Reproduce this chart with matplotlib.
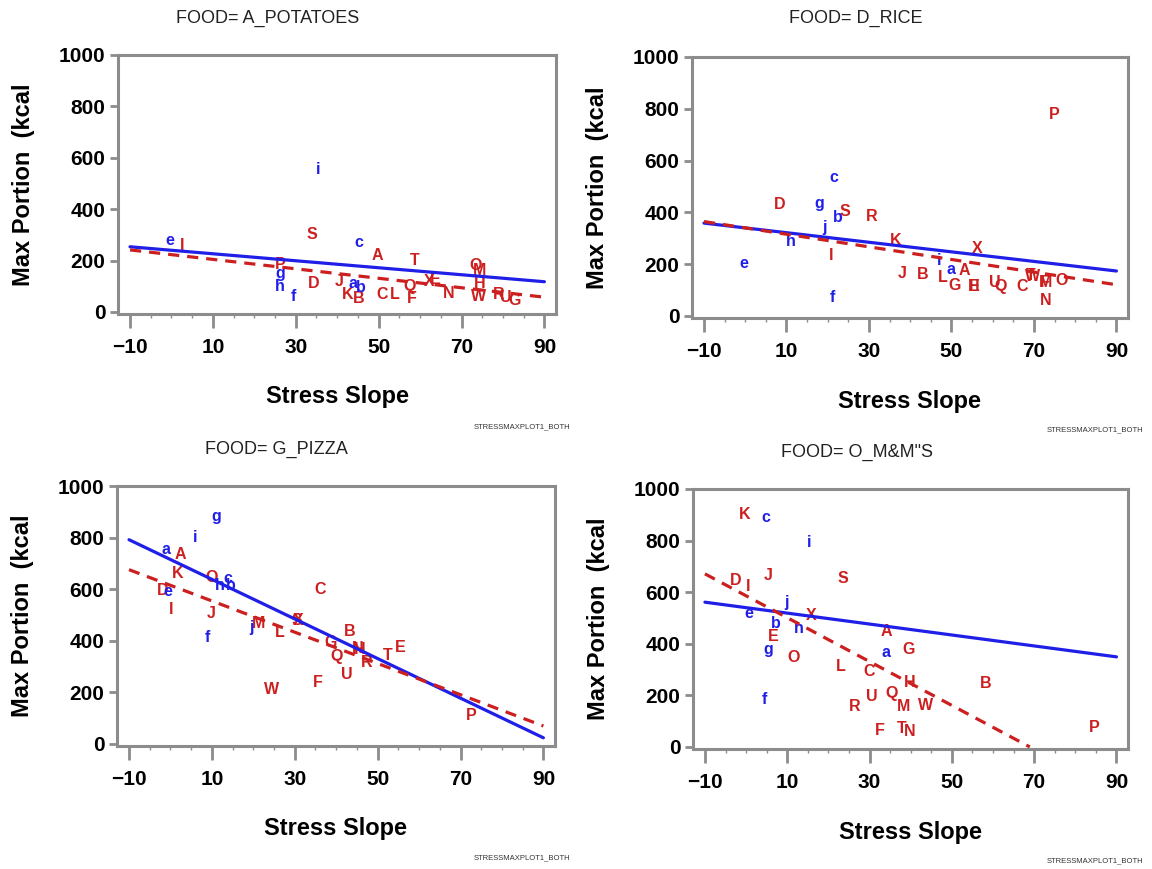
import numpy as np
import matplotlib
matplotlib.use("Agg")
import matplotlib.pyplot as plt

plt.rcParams['font.family'] = ['Liberation Sans', 'DejaVu Sans']

# ---- data ----
food_titles = ["FOOD= A_POTATOES", "FOOD= D_RICE", "FOOD= G_PIZZA", 'FOOD= O_M&M"S']

# A_POTATOES
potato_upper = ["I", "S", "A", "T", "P", "D", "J", "K", "B", "C", "L", "Q", "F",
                "X", "E", "N", "O", "M", "H", "W", "R", "U", "G"]
potato_upper_x = [2.5, 33.9, 49.8, 58.7, 26.2, 34.4, 40.5, 42.5, 45.2, 50.8, 54.0, 57.4, 57.9,
                  62.2, 63.7, 66.9, 73.3, 74.4, 74.5, 74.1, 79.0, 80.6, 82.8]
potato_upper_y = [257, 300, 218, 202, 183, 112, 118, 66, 51, 66, 66, 98, 53,
                  118, 125, 70, 179, 161, 112, 60, 66, 57, 44]
potato_lower = ["i", "e", "c", "g", "h", "f", "a", "b"]
potato_lower_x = [35.3, -0.3, 45.2, 26.2, 26.2, 29.4, 43.9, 45.6]
potato_lower_y = [555, 277, 270, 150, 98, 60, 109, 96]

# D_RICE
rice_upper = ["P", "D", "S", "R", "K", "X", "I", "J", "B", "A", "L", "G", "H", "E",
              "U", "Q", "C", "W", "T", "M", "F", "O", "N"]
rice_upper_x = [74.8, 8.3, 24.1, 30.7, 36.6, 56.3, 20.9, 38.0, 43.0, 53.1, 48.0, 50.7, 55.3, 55.6,
                60.5, 61.8, 67.2, 69.6, 69.2, 72.8, 72.6, 76.8, 72.8]
rice_upper_y = [779, 429, 403, 384, 290, 261, 232, 165, 161, 174, 148, 116, 114, 114,
                130, 112, 112, 154, 157, 129, 131, 138, 58]
rice_lower = ["c", "g", "b", "j", "h", "e", "f", "i", "a"]
rice_lower_x = [21.6, 17.9, 22.5, 19.3, 11.0, -0.4, 21.2, 47.1, 49.9]
rice_lower_y = [534, 434, 380, 341, 287, 203, 73, 215, 180]

# G_PIZZA
pizza_upper = ["A", "K", "O", "D", "I", "J", "C", "M", "L", "X", "S", "B", "G", "H", "N",
               "Q", "R", "T", "E", "U", "F", "W", "P"]
pizza_upper_x = [2.3, 1.7, 9.8, -1.9, 0.1, 9.8, 36.2, 21.3, 26.3, 30.8, 30.6, 43.3, 38.6, 45.7, 45.2,
                 40.2, 47.3, 52.5, 55.5, 42.6, 35.6, 24.5, 72.7]
pizza_upper_y = [734, 659, 646, 594, 523, 504, 597, 465, 432, 478, 480, 436, 393, 368, 370,
                 338, 316, 342, 372, 268, 238, 212, 109]
pizza_lower = ["g", "i", "a", "c", "h", "b", "e", "f", "j"]
pizza_lower_x = [11.1, 5.9, -1.0, 13.8, 11.8, 14.6, -0.7, 9.0, 19.5]
pizza_lower_y = [882, 801, 753, 640, 614, 614, 592, 413, 452]

# O_M&M'S
mms_upper = ["K", "J", "S", "D", "I", "X", "E", "A", "O", "G", "L", "C", "H", "B",
             "U", "Q", "R", "M", "W", "F", "T", "N", "P"]
mms_upper_x = [-0.35, 5.4, 23.5, -2.5, 0.6, 15.9, 6.7, 34.2, 11.6, 39.4, 23.0, 30.0, 39.8, 58.3,
               30.6, 35.4, 26.3, 38.2, 43.5, 32.4, 37.8, 39.7, 84.6]
mms_upper_y = [900, 665, 652, 645, 622, 510, 430, 446, 347, 377, 313, 291, 250, 246,
               197, 207, 156, 156, 162, 63, 72, 59, 76]
mms_lower = ["c", "i", "j", "e", "b", "h", "g", "a", "f"]
mms_lower_x = [4.9, 15.3, 9.7, 0.6, 7.3, 12.7, 5.5, 34.1, 4.5]
mms_lower_y = [888, 793, 561, 519, 478, 461, 379, 368, 182]

# fitted lines (intercept at x=0, slope)
lower_fit_intercept = [240, 340, 715, 540]
lower_fit_slope = [-1.36, -1.85, -7.68, -2.12]
upper_fit_intercept = [223, 340, 615, 586]
upper_fit_slope = [-1.84, -2.44, -6.06, -8.5]

# ---- drawing ----
W, H = 1152, 869
RED = "#cc1f1f"
BLUE = "#1f1fe8"
GRAY = "#8c8c8c"

fig = plt.figure(figsize=(W / 100, H / 100), dpi=100)

# axes frames in pixels: left, top, right, bottom
frames = [(118, 55, 556, 314), (692, 57, 1128, 318),
          (117, 486, 555, 746), (693, 489, 1128, 749)]
title_pos = [(268, 18), (856, 18), (276, 449), (857, 452)]
foot_pos = [(570, 427), (1143, 430), (570, 858), (1143, 861)]

uppers = [(potato_upper, potato_upper_x, potato_upper_y),
          (rice_upper, rice_upper_x, rice_upper_y),
          (pizza_upper, pizza_upper_x, pizza_upper_y),
          (mms_upper, mms_upper_x, mms_upper_y)]
lowers = [(potato_lower, potato_lower_x, potato_lower_y),
          (rice_lower, rice_lower_x, rice_lower_y),
          (pizza_lower, pizza_lower_x, pizza_lower_y),
          (mms_lower, mms_lower_x, mms_lower_y)]


def fit_line(ax, b0, b1, **kw):
    x = np.array([-10.0, 90.0])
    y = b0 + b1 * x
    if y[1] < 0:
        x[1] = -b0 / b1
        y[1] = 0
    ax.plot(x, y, zorder=3, **kw)


for k in range(4):
    l, t, r, b = frames[k]
    ax = fig.add_axes([l / W, 1 - b / H, (r - l) / W, (b - t) / H])

    labels, xs, ys = uppers[k]
    for s, xv, yv in zip(labels, xs, ys):
        ax.text(xv, yv, s, color=RED, fontsize=11.5, fontweight='bold',
                ha='center', va='center', zorder=2)
    labels, xs, ys = lowers[k]
    for s, xv, yv in zip(labels, xs, ys):
        ax.text(xv, yv, s, color=BLUE, fontsize=11.5, fontweight='bold',
                ha='center', va='center', zorder=2)

    fit_line(ax, lower_fit_intercept[k], lower_fit_slope[k], color=BLUE, lw=2.3,
             solid_capstyle='round')
    fit_line(ax, upper_fit_intercept[k], upper_fit_slope[k], color=RED, lw=2.3,
             dashes=(3.5, 2.5))

    ax.set_xlim(-12.9, 92.8)
    ax.set_ylim(-8, 1000)
    ax.set_xticks(range(-10, 91, 20))
    ax.set_xticks(np.arange(-10, 91, 5), minor=True)
    ax.set_yticks(range(0, 1001, 200))
    ax.tick_params(axis='x', which='major', direction='out', length=10, width=2,
                   color=GRAY, pad=7, labelsize=15)
    ax.tick_params(axis='x', which='minor', direction='out', length=3, width=1, color=GRAY)
    ax.tick_params(axis='y', direction='out', length=6, width=2, color=GRAY,
                   pad=3, labelsize=15)
    plt.setp(ax.get_xticklabels() + ax.get_yticklabels(), fontweight='bold')
    for sp in ax.spines.values():
        sp.set_color(GRAY)
        sp.set_linewidth(2.2)

    ax.set_xlabel("Stress Slope", fontsize=17, fontweight='bold')
    ax.set_ylabel("Max Portion  (kcal", fontsize=17, fontweight='bold')
    ax.xaxis.set_label_coords(0.5, -0.275)
    ax.yaxis.set_label_coords(-0.19, 0.5)

    tx, ty = title_pos[k]
    fig.text(tx / W, 1 - ty / H, food_titles[k], fontsize=13, color="#222222",
             ha='center', va='center')
    fx, fy = foot_pos[k]
    fig.text(fx / W, 1 - fy / H, "STRESSMAXPLOT1_BOTH", fontsize=5.5, color="#333333",
             ha='right', va='center')

fig.savefig("out.png", dpi=100)
